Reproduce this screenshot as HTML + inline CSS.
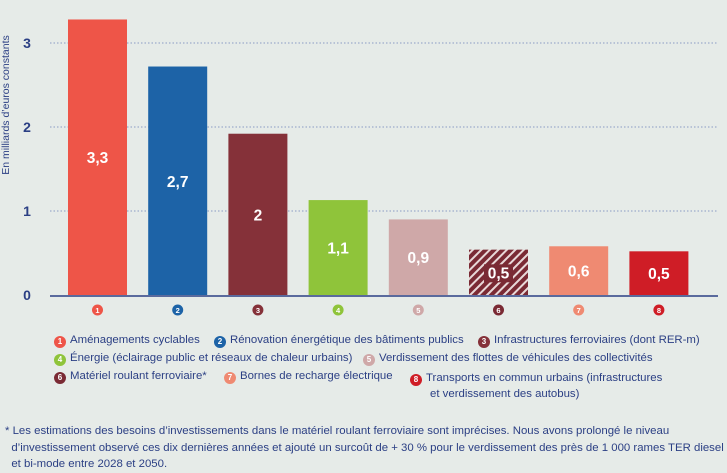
<!DOCTYPE html>
<html><head><meta charset="utf-8">
<style>
body{margin:0;width:727px;height:471px;background:#e6ebe8;font-family:"Liberation Sans",sans-serif;overflow:hidden;position:relative}
.lg{position:absolute;font-size:11.4px;color:#2b3f84;white-space:nowrap}
.dot{display:inline-block;width:12px;height:12px;border-radius:50%;color:#fff;font-size:8px;font-weight:bold;text-align:center;line-height:12px;vertical-align:-1px;margin-right:4px}
.fn{position:absolute;left:5px;top:423px;font-size:11.4px;color:#2b3f84;line-height:16.5px;width:720px}
</style></head><body>
<svg id="chart" width="727" height="320" style="position:absolute;left:0;top:0">
<defs><pattern id="hatch" width="6" height="6" patternUnits="userSpaceOnUse" patternTransform="rotate(45)"><rect width="6" height="6" fill="#7a2a34"/><rect width="2" height="6" fill="#e8d8d8"/></pattern></defs>
</svg>
<div class="lg" style="left:54px;top:334px"><span class="dot" style="background:#ee5548">1</span>Aménagements cyclables</div>
<div class="lg" style="left:214px;top:334px"><span class="dot" style="background:#1d63a7">2</span>Rénovation énergétique des bâtiments publics</div>
<div class="lg" style="left:478px;top:334px"><span class="dot" style="background:#853139">3</span>Infrastructures ferroviaires (dont RER-m)</div>
<div class="lg" style="left:54px;top:352px"><span class="dot" style="background:#8fc43a">4</span>Énergie (éclairage public et réseaux de chaleur urbains)</div>
<div class="lg" style="left:363px;top:352px"><span class="dot" style="background:#cfa8a8">5</span>Verdissement des flottes de véhicules des collectivités</div>
<div class="lg" style="left:54px;top:370px"><span class="dot" style="background:#7a2a34">6</span>Matériel roulant ferroviaire*</div>
<div class="lg" style="left:224px;top:370px"><span class="dot" style="background:#ef8a72">7</span>Bornes de recharge électrique</div>
<div class="lg" style="left:410px;top:370px;line-height:16px"><span class="dot" style="background:#cf1d26">8</span>Transports en commun urbains (infrastructures<br><span style="margin-left:20px">et verdissement des autobus)</span></div>
<div class="fn">* Les estimations des besoins d’investissements dans le matériel roulant ferroviaire sont imprécises. Nous avons prolongé le niveau<br>&nbsp;&nbsp;d’investissement observé ces dix dernières années et ajouté un surcoût de + 30 % pour le verdissement des près de 1 000 rames TER diesel<br>&nbsp;&nbsp;et bi-mode entre 2028 et 2050.</div>
<script>
const categories=["1","2","3","4","5","6","7","8"];
const values=[3.28,2.72,1.92,1.13,0.9,0.54,0.58,0.52];
const valueLabels=["3,3","2,7","2","1,1","0,9","0,5","0,6","0,5"];
const colors=["#ee5548","#1d63a7","#853139","#8fc43a","#cfa8a8","url(#hatch)","#ef8a72","#cf1d26"];
const dotColors=["#ee5548","#1d63a7","#853139","#8fc43a","#cfa8a8","#7a2a34","#ef8a72","#cf1d26"];
const yTicks=[0,1,2,3];
const NS="http://www.w3.org/2000/svg";
const svg=document.getElementById("chart");
const y=v=>295-v*84;
const x=i=>68+i*80.2;
const bw=59;
function mk(t,a,txt){const e=document.createElementNS(NS,t);for(const k in a)e.setAttribute(k,a[k]);if(txt!==undefined)e.textContent=txt;svg.appendChild(e);return e;}
yTicks.forEach(t=>{
  if(t>0){const g=mk("line",{x1:50,x2:718,y1:y(t),y2:y(t),stroke:"#8a9bc4","stroke-width":1,"stroke-dasharray":"1.5,2"});
  
  }
  const l=mk("text",{x:27,y:y(t)+5,"text-anchor":"middle","font-size":14,"font-weight":"bold",fill:"#2b3f84"},t);
  
  
});
const at=mk("text",{x:0,y:0,transform:"translate(9,105) rotate(-90)","text-anchor":"middle","font-size":10.5,fill:"#2b3f84"},"En milliards d’euros constants");


values.forEach((v,i)=>{
  const r=mk("rect",{x:x(i),y:y(v),width:bw,height:y(0)-y(v),fill:colors[i]});
  
  
  const cy=(y(v)+y(0))/2+6;
  if(i===5){const bg=mk("rect",{x:x(i)+15,y:cy-14,width:29,height:18,fill:"#7a2a34"});
  
  }
  const t=mk("text",{x:x(i)+bw/2,y:cy,"text-anchor":"middle","font-size":15.5,"font-weight":"bold",fill:"#fff"},valueLabels[i]);
  
  
  const c=mk("circle",{cx:x(i)+bw/2,cy:310,r:5.5,fill:dotColors[i]});
  
  
  const ct=mk("text",{x:x(i)+bw/2,y:313,"text-anchor":"middle","font-size":7.5,"font-weight":"bold",fill:"#fff"},categories[i]);
  
  
});
const ax=mk("line",{x1:50,x2:718,y1:y(0)+1,y2:y(0)+1,stroke:"#2b3f84","stroke-width":1.5});


</script>
</body></html>
